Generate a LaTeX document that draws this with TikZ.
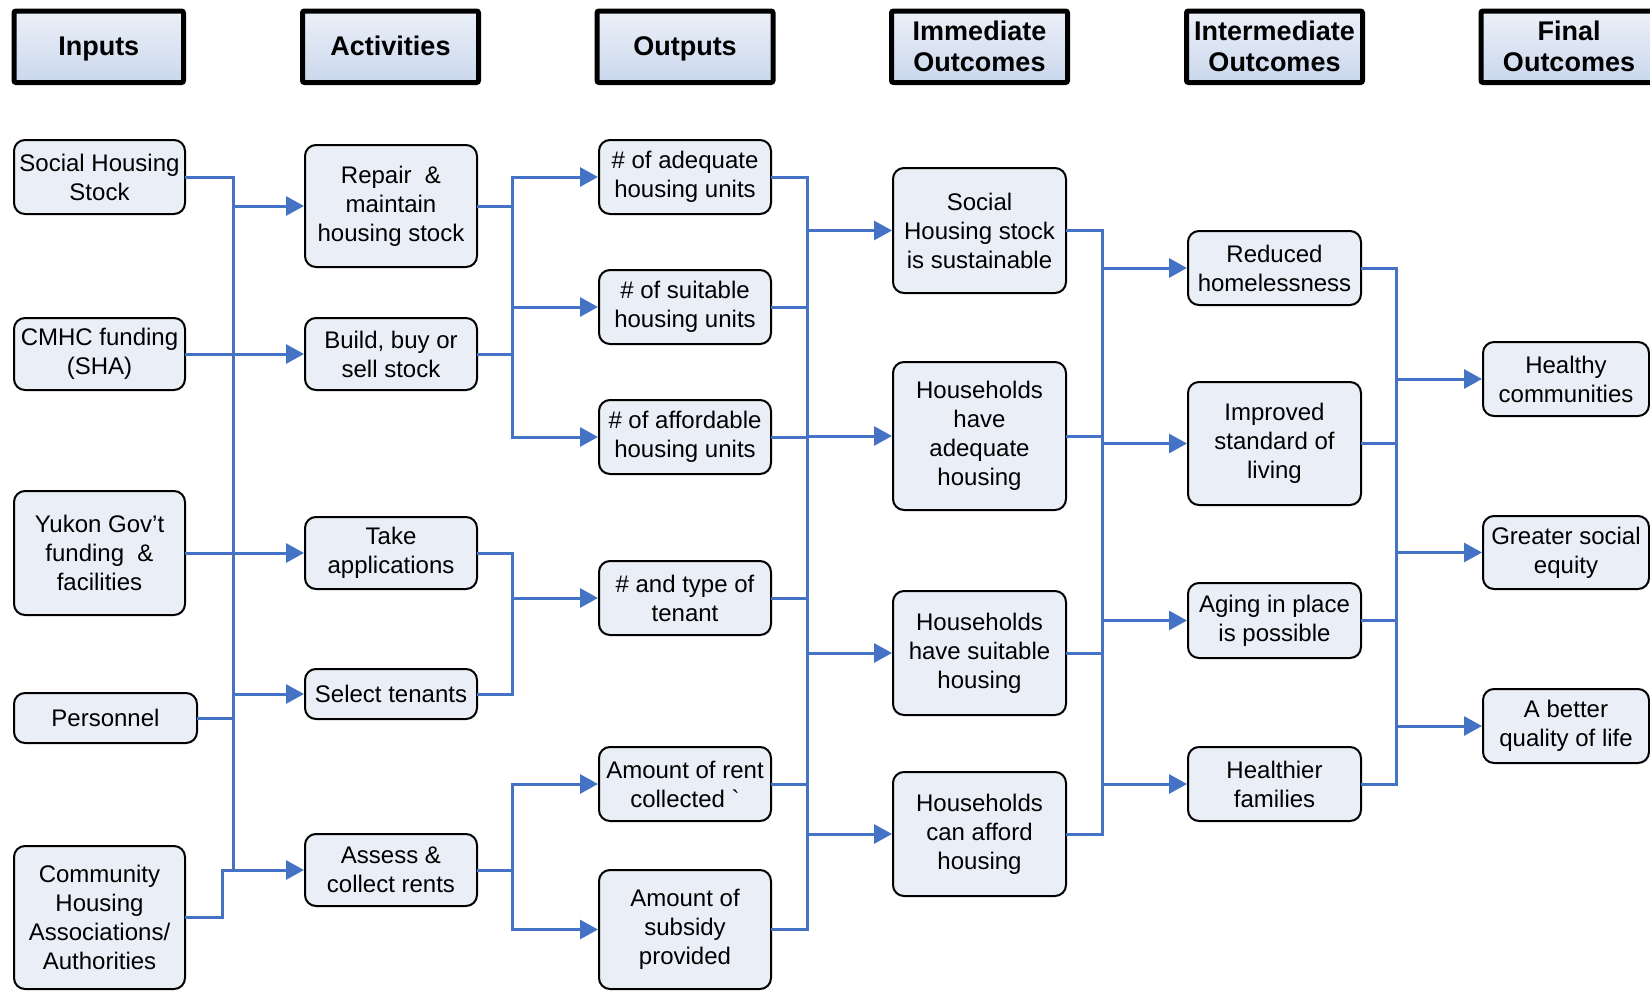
\documentclass[tikz,border=0pt]{standalone}
\usepackage{fontspec}
\setmainfont{Liberation Sans}
\usetikzlibrary{arrows.meta}
\definecolor{boxfill}{RGB}{234,239,247}
\definecolor{connblue}{RGB}{68,114,196}
\definecolor{hdrA}{RGB}{236,241,249}
\definecolor{hdrB}{RGB}{202,215,236}
\newcommand\bxn[6]{\node[bx, minimum width={#4-#2}, minimum height={#5-#3}] (#1) at ({(#2+#4)/2},{(#3+#5)/2}) {#6};}
\newcommand\hdn[4]{\node[hdr, minimum width={#3-#2}, minimum height=71.5] (#1) at ({(#2+#3)/2},46.75) {#4};}
\newcommand\hstrut{\rule[-7pt]{0pt}{30.5pt}}
\begin{document}
\begin{tikzpicture}[x=1pt,y=-1pt,
  bx/.style={draw=black, line width=2pt, fill=boxfill, rounded corners=11pt, align=center, inner sep=0pt, font=\fontsize{24}{29}\selectfont},
  hdr/.style={draw=black, line width=5pt, top color=hdrA, bottom color=hdrB, rounded corners=2pt, align=center, inner sep=0pt, font=\bfseries\fontsize{27}{31}\selectfont},
  ln/.style={draw=connblue, line width=3pt, line cap=rect},
  arr/.style={draw=connblue, line width=3pt, -{Triangle[length=18pt,width=19pt]}},
]
\useasboundingbox (0,0) rectangle (1650,991);
\clip (0,0) rectangle (1650,991);

% headers
\hdn{hin}{14}{183.5}{\hstrut Inputs}
\hdn{hact}{302.5}{478.5}{\hstrut Activities}
\hdn{hout}{597}{773}{\hstrut Outputs}
\hdn{himm}{891.5}{1067.5}{Immediate\\Outcomes}
\hdn{hint}{1186.5}{1362.5}{Intermediate\\Outcomes}
\hdn{hfin}{1481}{1657}{Final\\Outcomes}

% inputs
\bxn{shs}{14}{140}{185}{214}{Social Housing\\Stock}
\bxn{cmhc}{14}{318}{185}{390}{CMHC funding\\(SHA)}
\bxn{yukon}{14}{491}{185}{615}{Yukon Gov’t\\funding \ \&\\facilities}
\bxn{pers}{14}{693}{197}{743}{Personnel}
\bxn{comm}{14}{846}{185}{989}{Community\\Housing\\Associations/\\Authorities}

% activities
\bxn{repair}{305}{145}{477}{267}{Repair \ \&\\maintain\\housing stock}
\bxn{build}{305}{318}{477}{390}{Build, buy or\\sell stock}
\bxn{take}{305}{517}{477}{589}{Take\\applications}
\bxn{select}{305}{669}{477}{719}{Select tenants}
\bxn{assess}{305}{834}{477}{906}{Assess \&\\collect rents}

% outputs
\bxn{adeq}{599}{140}{771}{214}{\# of adequate\\housing units}
\bxn{suit}{599}{270}{771}{344}{\# of suitable\\housing units}
\bxn{afford}{599}{400}{771}{474}{\# of affordable\\housing units}
\bxn{type}{599}{561}{771}{635}{\# and type of\\tenant}
\bxn{rent}{599}{747}{771}{821}{Amount of rent\\collected \textasciigrave}
\bxn{subs}{599}{870}{771}{989}{Amount of\\subsidy\\provided}

% immediate
\bxn{shst}{893}{168}{1066}{293}{Social\\Housing stock\\is sustainable}
\bxn{hhad}{893}{362}{1066}{510}{Households\\have\\adequate\\housing}
\bxn{hhsu}{893}{591}{1066}{715}{Households\\have suitable\\housing}
\bxn{hhaf}{893}{772}{1066}{896}{Households\\can afford\\housing}

% intermediate
\bxn{red}{1188}{231}{1361}{305}{Reduced\\homelessness}
\bxn{imp}{1188}{382}{1361}{505}{Improved\\standard of\\living}
\bxn{aging}{1188}{583}{1361}{658}{Aging in place\\is possible}
\bxn{healthier}{1188}{747}{1361}{821}{Healthier\\families}

% final
\bxn{healthy}{1483}{342}{1649}{416}{Healthy\\communities}
\bxn{greater}{1483}{516}{1649}{589}{Greater social\\equity}
\bxn{better}{1483}{689}{1649}{763}{A better\\quality of life}

% bus columns
\coordinate (b1) at (233.6,0);
\coordinate (cj) at (222,0);
\coordinate (b2) at (512.5,0);
\coordinate (b3) at (807,0);
\coordinate (b4) at (1102,0);
\coordinate (b5) at (1396.5,0);

% inputs -> activities
\draw[ln] (shs.east) -- (b1 |- shs.east) -- (b1 |- assess.west);
\draw[ln] (cmhc.east) -- (b1 |- cmhc.east);
\draw[ln] (yukon.east) -- (b1 |- yukon.east);
\draw[ln] (pers.east) -- (b1 |- pers.east);
\draw[ln] (comm.east) -- (cj |- comm.east) -- (cj |- assess.west) -- (b1 |- assess.west);
\foreach \t in {repair,build,take,select,assess}
  \draw[arr] (b1 |- \t.west) -- (\t.west);

% activities -> outputs
\draw[ln] (repair.east) -- (b2 |- repair.east);
\draw[ln] (build.east) -- (b2 |- build.east);
\draw[ln] (b2 |- adeq.west) -- (b2 |- afford.west);
\foreach \t in {adeq,suit,afford}
  \draw[arr] (b2 |- \t.west) -- (\t.west);
\draw[ln] (take.east) -- (b2 |- take.east) -- (b2 |- select.east) -- (select.east);
\draw[arr] (b2 |- type.west) -- (type.west);
\draw[ln] (assess.east) -- (b2 |- assess.east);
\draw[ln] (b2 |- rent.west) -- (b2 |- subs.west);
\foreach \t in {rent,subs}
  \draw[arr] (b2 |- \t.west) -- (\t.west);

% outputs -> immediate
\foreach \s in {adeq,suit,afford,type,rent,subs}
  \draw[ln] (\s.east) -- (b3 |- \s.east);
\draw[ln] (b3 |- adeq.east) -- (b3 |- subs.east);
\foreach \t in {shst,hhad,hhsu,hhaf}
  \draw[arr] (b3 |- \t.west) -- (\t.west);

% immediate -> intermediate
\foreach \s in {shst,hhad,hhsu,hhaf}
  \draw[ln] (\s.east) -- (b4 |- \s.east);
\draw[ln] (b4 |- shst.east) -- (b4 |- hhaf.east);
\foreach \t in {red,imp,aging,healthier}
  \draw[arr] (b4 |- \t.west) -- (\t.west);

% intermediate -> final
\foreach \s in {red,imp,aging,healthier}
  \draw[ln] (\s.east) -- (b5 |- \s.east);
\draw[ln] (b5 |- red.east) -- (b5 |- healthier.east);
\foreach \t in {healthy,greater,better}
  \draw[arr] (b5 |- \t.west) -- (\t.west);
\end{tikzpicture}
\end{document}
